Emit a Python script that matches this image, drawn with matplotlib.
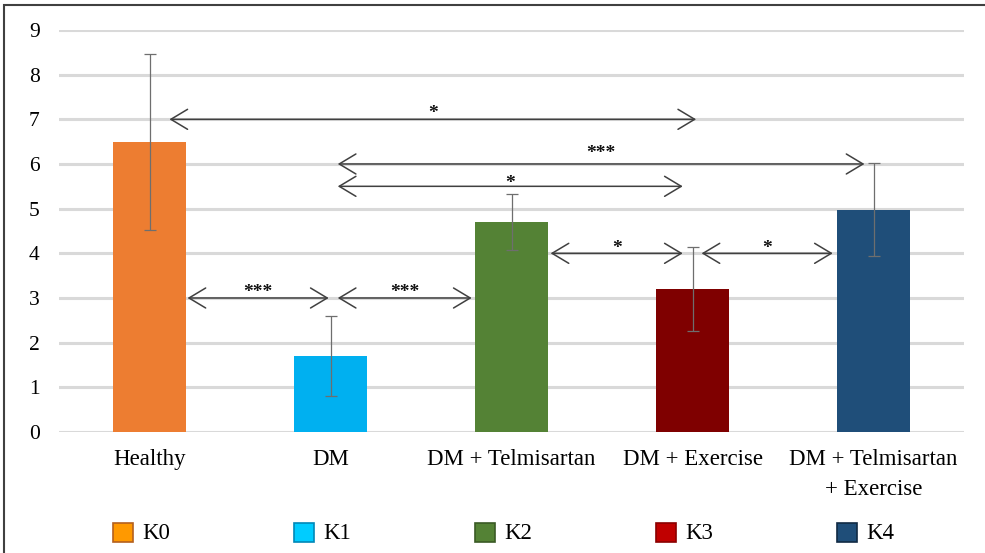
import matplotlib.pyplot as plt
import matplotlib.patches as patches
import matplotlib.transforms as mtransforms

plt.rcParams['font.family'] = ['Liberation Serif', 'DejaVu Serif']

groups = ['Healthy', 'DM', 'DM + Telmisartan', 'DM + Exercise', 'DM + Telmisartan\n+ Exercise']
means = [6.5, 1.7, 4.7, 3.2, 4.98]
errors = [1.97, 0.9, 0.63, 0.95, 1.04]
bar_colors = ['#ED7D31', '#00B0F0', '#548235', '#7F0000', '#1F4E79']

legend_labels = ['K0', 'K1', 'K2', 'K3', 'K4']
legend_colors = ['#FF9900', '#00CCFF', '#548235', '#C00000', '#1F4E79']
legend_edges = ['#B4601E', '#0088B8', '#3A5A25', '#8A0000', '#102A44']

# significance brackets: start x, end x, level, star height, stars
sig_start = [0.11, 1.04, 1.04, 2.216, 3.05, 0.21, 1.04]
sig_end = [3.02, 3.95, 2.946, 2.946, 3.775, 0.99, 1.78]
sig_level = [7.0, 6.0, 5.5, 4.0, 4.0, 3.0, 3.0]
sig_star_y = [7.27, 6.38, 5.70, 4.25, 4.25, 3.27, 3.27]
sig_text = ['*', '***', '*', '*', '*', '***', '***']


def main():
    fig = plt.figure(figsize=(9.85, 5.53), dpi=100)
    ax = fig.add_axes([0.0599, 0.2188, 0.9188, 0.727])

    x = list(range(len(groups)))
    ax.bar(x, means, width=0.405, color=bar_colors, zorder=2)
    ax.errorbar(x, means, yerr=errors, fmt='none', ecolor='#6E6E6E',
                elinewidth=0.9, capsize=4.5, capthick=0.9, zorder=3)

    ax.set_xlim(-0.5, len(groups) - 0.5)
    ax.set_ylim(0, 9)
    ax.set_yticks(range(10))
    ax.yaxis.grid(True, color='#D9D9D9', linewidth=2.2, zorder=0)
    ax.set_axisbelow(True)
    for s in ax.spines.values():
        s.set_visible(False)
    ax.tick_params(axis='y', length=0, pad=14, labelsize=15.5)
    ax.tick_params(axis='x', length=0, pad=12, labelsize=16.5)
    ax.set_xticks(x)
    ax.set_xticklabels(groups, linespacing=1.58, va='top')

    for x0, x1, lvl, sy, txt in zip(sig_start, sig_end, sig_level, sig_star_y, sig_text):
        ax.annotate('', xy=(x0, lvl), xytext=(x1, lvl),
                    arrowprops=dict(arrowstyle='<->, head_length=1.2, head_width=0.72',
                                    color='#404040', lw=1.1, shrinkA=0, shrinkB=0,
                                    mutation_scale=10), zorder=4)
        ax.text((x0 + x1) / 2, sy - 0.24, txt, ha='center', va='baseline',
                fontsize=14, fontweight='bold', color='#111111', zorder=4)

    # legend entries spread under each category
    trans = mtransforms.blended_transform_factory(ax.transData, fig.transFigure)
    for i, (lab, fc, ec) in enumerate(zip(legend_labels, legend_colors, legend_edges)):
        sq = patches.Rectangle((i - 0.20, 0.0199), 0.11, 0.0344, transform=trans,
                               facecolor=fc, edgecolor=ec, lw=1.2, clip_on=False)
        fig.add_artist(sq)
        fig.text(i - 0.04, 0.036, lab, transform=trans, fontsize=16.5,
                 va='center', ha='left')

    # outer frame
    fig.add_artist(patches.Rectangle((0.0045, -0.01), 1.2, 1.0015, transform=fig.transFigure,
                                     fill=False, edgecolor='#404040', lw=1.5))

    fig.savefig('out.png', dpi=100)
    plt.close(fig)


if __name__ == '__main__':
    main()
